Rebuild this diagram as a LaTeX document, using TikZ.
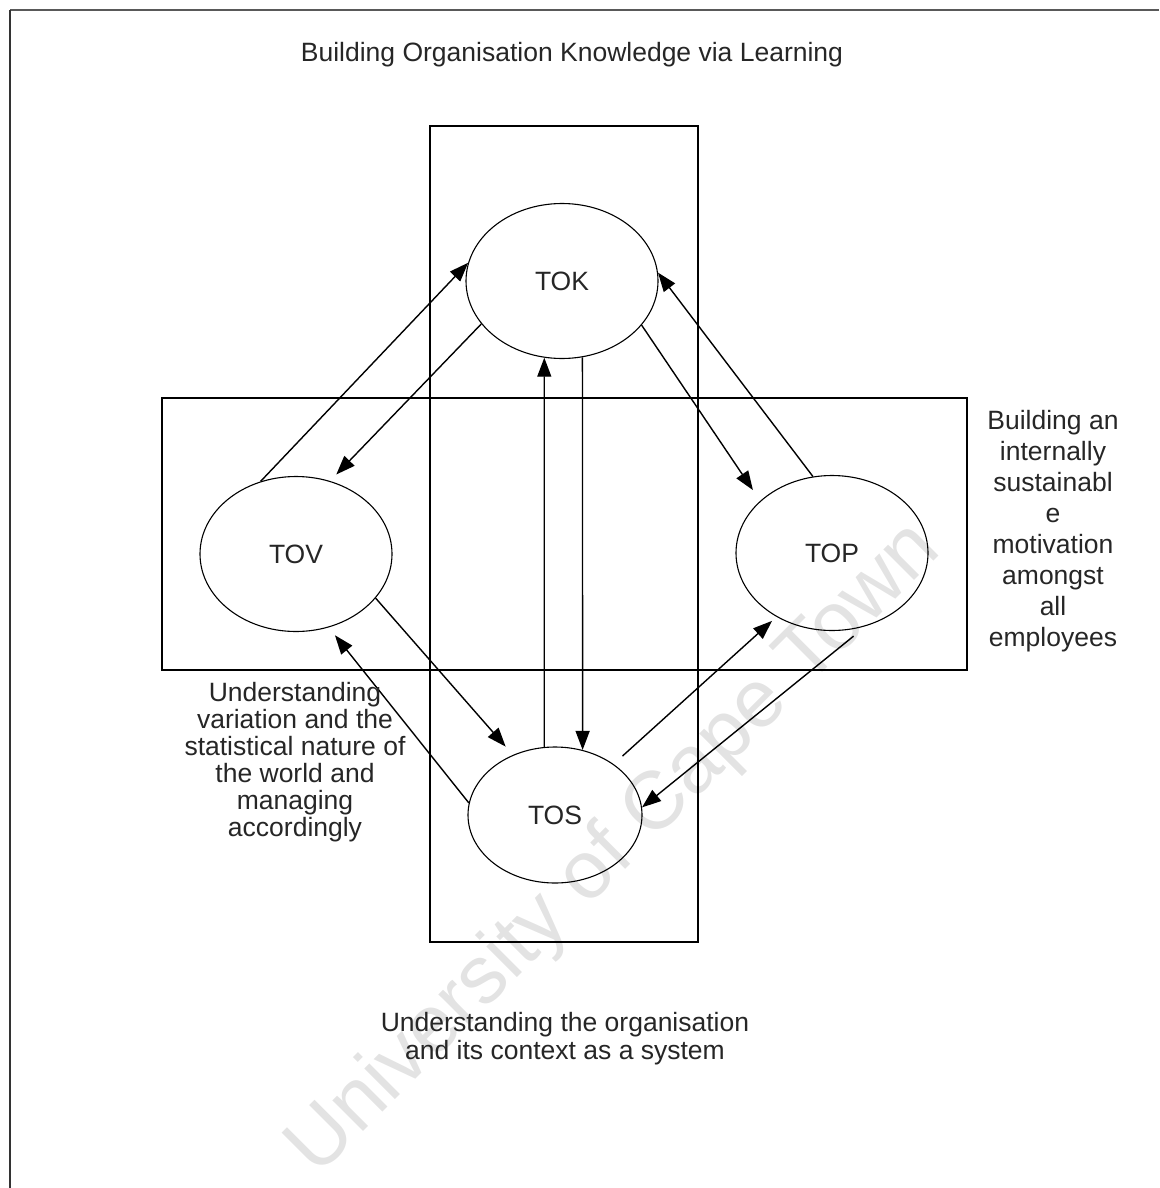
\documentclass[tikz,border=0pt]{standalone}
\usepackage{fontspec}
\setmainfont{Liberation Sans}
\usetikzlibrary{shapes.geometric,arrows.meta}
\begin{document}
\begin{tikzpicture}[x=1pt,y=-1pt,
  every node/.style={font=\fontsize{26.5}{27}\selectfont, text=black!85},
  bubble/.style={ellipse, draw, line width=1.1pt, inner sep=0pt,
    minimum width=192pt, minimum height=155pt},
  arr/.style={-{Triangle[length=19pt,width=14pt]}, line width=1.4pt},
  zone/.style={draw, line width=1.4pt, inner sep=0pt},
  caption/.style={align=center}]
\useasboundingbox (0,0) rectangle (1159,1188);

% faint watermark across the page
\node[text=black!11, rotate=45, font=\fontsize{82}{82}\selectfont] (wm) at (615,850) {University of Cape Town};

% page frame (top and left edges)
\coordinate (ftl) at (10,10);
\coordinate (ftr) at (1159,10);
\coordinate (fbl) at (10,1188);
\draw[line width=2.5pt, black!65] (ftr) -- (ftl);
\draw[line width=1.8pt, black!80] (ftl) -- (fbl);

% the two overlapping zones
\node[zone, minimum width=268pt, minimum height=816pt] (vzone) at (564,534) {};
\node[zone, minimum width=805pt, minimum height=272pt] (hzone) at (564.5,534) {};

% the four knowledge areas
\node[bubble] (tok) at (562,281) {TOK};
\node[bubble] (tov) at (296,554) {TOV};
\node[bubble] (top) at (832,553) {TOP};
\node[bubble, minimum width=174pt, minimum height=136pt] (tos) at (555,815) {TOS};

% connectors
\draw[arr] (tov.116) -- (tok.169);
\draw[arr, shorten >=9pt] (tok.208.6) -- (tov.65.9);
\draw[arr, shorten >=13pt] (tok.331.5) -- (top.144);
\draw[arr] (top.104.7) -- (tok.5);
\draw[arr] (tos.99) -- (tok.257);
\draw[arr] (tok.285) -- (tos.67.3);
\draw[arr, shorten >=11pt] (tov.331.7) -- (tos.125.6);
\draw[arr, shorten >=10pt] (tos.172.7) -- (tov.294.3);
\draw[arr, shorten <=12pt, shorten >=6pt] (tos.41.3) -- (top.229.6);
\draw[arr, shorten <=16pt] (top.295) -- (tos.5);

% captions
\node[caption] (title) at (572,55) {Building Organisation Knowledge via Learning};
\node[caption] (tovnote) at (295,762) {Understanding\\variation and the\\statistical nature of\\the world and\\managing\\accordingly};
\node[caption, font=\fontsize{26.5}{31}\selectfont] (topnote) at (1053,531) {Building an\\internally\\sustainabl\\e\\motivation\\amongst\\all\\employees};
\node[caption, font=\fontsize{26.5}{28}\selectfont] (tosnote) at (565,1039) {Understanding the organisation\\and its context as a system};
\end{tikzpicture}
\end{document}
